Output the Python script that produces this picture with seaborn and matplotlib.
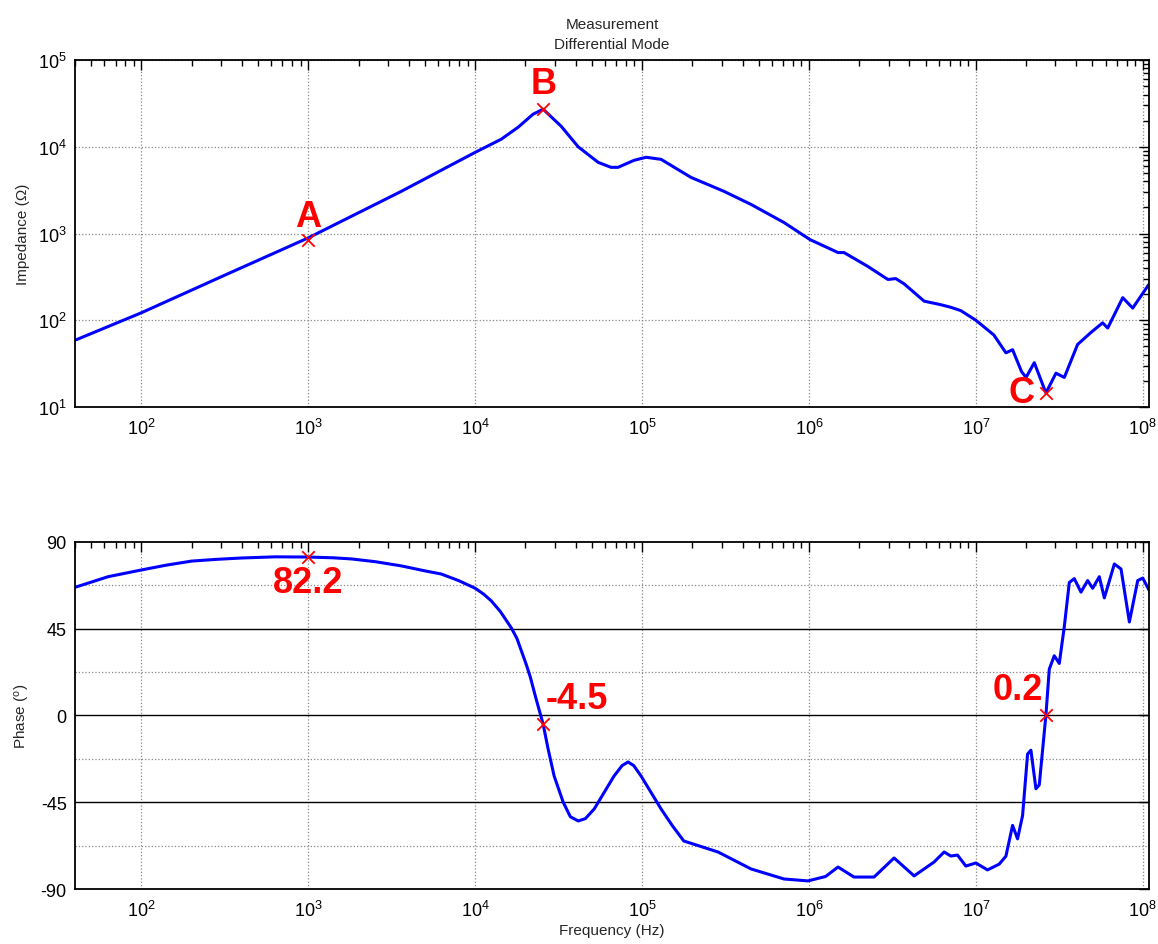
import numpy as np
import pandas as pd
import matplotlib
matplotlib.use("Agg")
import matplotlib.pyplot as plt
import seaborn as sns
from matplotlib.ticker import LogLocator, FixedLocator, NullFormatter

# Impedance magnitude, differential mode measurement
imp_freq = [40.7, 100, 316, 1000, 3606, 10000, 14320, 18070, 22230, 25530,
            32730, 41400, 54580, 65160, 71780, 89540, 105700, 130000, 196300,
            309700, 449800, 707900, 1.014e6, 1.493e6, 1.622e6, 2.254e6,
            2.972e6, 3.311e6, 3.715e6, 4.898e6, 6.166e6, 7.079e6, 8.128e6,
            1.0e7, 1.282e7, 1.514e7, 1.66e7, 1.88e7, 2.0e7, 2.24e7, 2.63e7,
            3.02e7, 3.39e7, 4.07e7, 4.9e7, 5.75e7, 6.17e7, 7.59e7, 8.71e7,
            1.086e8]
imp_ohm = [59.6, 122, 331, 891, 3062, 8630, 12220, 16790, 23770, 27100,
           17260, 10000, 6607, 5794, 5794, 6982, 7568, 7161, 4436,
           3062, 2163, 1340, 851, 603, 603, 417,
           295, 302, 263, 166, 151, 141, 129,
           100, 67.6, 42.1, 45.7, 25.5, 21.9, 32.4, 14.5,
           24.5, 21.9, 52.5, 72.4, 93.3, 81.3, 182, 138,
           257]

# Phase angle
ph_freq = [40.7, 63.1, 100, 141, 200, 282, 398, 631, 1000, 1413, 1820, 2512,
           3606, 5012, 6252, 7943, 10000, 11220, 12470, 14130, 16440, 17780,
           20180, 21380, 23170, 25530, 27350, 29720, 33650, 37150, 41400,
           45710, 51640, 67920, 75860, 82410, 89130, 98630, 130000, 151400,
           177800, 285100, 449800, 707900, 986300,
           1.259e6, 1.493e6, 1.862e6, 2.455e6, 3.236e6, 4.266e6, 5.623e6,
           6.457e6, 7.079e6, 7.762e6, 8.710e6, 1.0e7, 1.175e7, 1.380e7,
           1.514e7, 1.660e7, 1.778e7, 1.905e7, 2.042e7, 2.138e7, 2.291e7,
           2.399e7, 2.63e7, 2.754e7, 2.951e7, 3.162e7, 3.388e7, 3.631e7,
           3.890e7, 4.266e7, 4.677e7, 5.012e7, 5.495e7, 5.888e7, 6.761e7,
           7.413e7, 8.318e7, 9.333e7, 1.0e8, 1.122e8]
ph_deg = [66.7, 72.0, 75.5, 78.0, 80.1, 81.0, 81.7, 82.3, 82.2, 81.8, 81.2,
          79.8, 77.6, 75.0, 73.4, 70.0, 66.0, 63.0, 59.5, 54.0, 45.5, 40.0,
          26.7, 20.0, 8.6, -4.5, -17.4, -31.4, -44.9, -52.5, -54.7,
          -53.5, -48.5, -31.4, -26.0, -24.1, -26.0, -31.4, -48.5, -57.0,
          -65.1, -70.8, -79.6, -84.8, -85.8,
          -83.5, -78.6, -83.8, -83.8, -73.9, -83.2, -76.0,
          -70.8, -72.9, -72.4, -78.1, -76.5, -80.1, -77.1,
          -73.0, -57.0, -64.0, -52.0, -20.0, -18.0, -38.0,
          -36.0, 0.2, 24.0, 31.0, 27.0, 46.0, 69.0,
          71.0, 64.0, 70.0, 66.0, 72.0, 61.0, 78.6,
          76.0, 48.5, 70.0, 71.3, 63.0]

# Marked points
imp_mark_freq = [1000, 25530, 2.63e7]
imp_mark_ohm = [850, 27100, 14.5]
imp_mark_text = ["A", "B", "C"]
ph_mark_freq = [1000, 25530, 2.63e7]
ph_mark_deg = [82.2, -4.5, 0.2]
ph_mark_text = ["82.2", "-4.5", "0.2"]

decade_ticks = [1e2, 1e3, 1e4, 1e5, 1e6, 1e7, 1e8]

imp_df = pd.DataFrame({"freq": imp_freq, "z": imp_ohm})
ph_df = pd.DataFrame({"freq": ph_freq, "phase": ph_deg})

sns.set_style("white")
plt.rcParams["font.family"] = ["Liberation Sans", "DejaVu Sans"]
plt.rcParams["mathtext.fontset"] = "custom"
plt.rcParams["mathtext.rm"] = "Liberation Sans"
plt.rcParams["mathtext.it"] = "Liberation Sans"
plt.rcParams["mathtext.default"] = "regular"
plt.rcParams["axes.unicode_minus"] = False

fig = plt.figure(figsize=(11.58, 9.45), dpi=100)
ax1 = fig.add_axes([0.0648, 0.5683, 0.9274, 0.3671])
ax2 = fig.add_axes([0.0648, 0.0582, 0.9274, 0.3672])

xmin, xmax = 40, 1.09e8
blue = "#0000ff"
red = "#ff0000"

# ---- Impedance ----
sns.lineplot(data=imp_df, x="freq", y="z", ax=ax1, color=blue, lw=2.2,
             estimator=None, sort=False)
ax1.set_xscale("log")
ax1.set_yscale("log")
ax1.set_xlim(xmin, xmax)
ax1.set_ylim(10, 1e5)
ax1.scatter(imp_mark_freq, imp_mark_ohm, marker="x", s=80, color=red,
            linewidths=1.3, zorder=5)
offsets = [((0, 4), "center", "bottom"), ((0, 6), "center", "bottom"),
           ((-8, 0), "right", "center")]
for fx, zy, t, (off, ha, va) in zip(imp_mark_freq, imp_mark_ohm,
                                    imp_mark_text, offsets):
    ax1.annotate(t, (fx, zy), xytext=off, textcoords="offset points",
                 ha=ha, va=va, color=red, fontsize=26, fontweight="bold")
ax1.set_ylabel("Impedance (\u03a9)", fontsize=11, labelpad=6)
ax1.set_xlabel("")
ax1.set_title("Measurement\nDifferential Mode", fontsize=11, pad=9,
              linespacing=1.5)

# ---- Phase ----
sns.lineplot(data=ph_df, x="freq", y="phase", ax=ax2, color=blue, lw=2.2,
             estimator=None, sort=False)
ax2.set_xscale("log")
ax2.set_xlim(xmin, xmax)
ax2.set_ylim(-90, 90)
ax2.scatter(ph_mark_freq, ph_mark_deg, marker="x", s=80, color=red,
            linewidths=1.3, zorder=5)
offsets = [((0, -6), "center", "top"), ((2, 6), "left", "bottom"),
           ((-2, 6), "right", "bottom")]
for fx, py, t, (off, ha, va) in zip(ph_mark_freq, ph_mark_deg,
                                    ph_mark_text, offsets):
    ax2.annotate(t, (fx, py), xytext=off, textcoords="offset points",
                 ha=ha, va=va, color=red, fontsize=26, fontweight="bold")
ax2.set_yticks([-90, -45, 0, 45, 90])
ax2.yaxis.set_minor_locator(FixedLocator([-67.5, -22.5, 22.5, 67.5]))
ax2.set_ylabel("Phase ($^{o}$)", fontsize=11, labelpad=6)
ax2.set_xlabel("Frequency (Hz)", fontsize=11, labelpad=2)
for v in (-45, 0, 45):
    ax2.axhline(v, color="black", lw=1.0, zorder=1)

for ax in (ax1, ax2):
    ax.xaxis.set_major_locator(FixedLocator(decade_ticks))
    ax.xaxis.set_minor_locator(LogLocator(base=10, subs=np.arange(2, 10),
                                          numticks=200))
    ax.xaxis.set_minor_formatter(NullFormatter())
    ax.grid(True, which="major", color="#888888", ls=":", lw=0.9)
    ax.set_axisbelow(True)
    ax.tick_params(which="both", direction="in", top=True, right=True,
                   labelsize=13, colors="black")
    ax.tick_params(which="major", length=7, width=1)
    ax.tick_params(which="minor", length=4, width=1)
    ax.tick_params(axis="x", which="major", pad=8)
    ax.tick_params(axis="y", which="major", pad=6)
    for s in ax.spines.values():
        s.set_color("black")
        s.set_linewidth(1.3)

ax1.yaxis.set_major_locator(FixedLocator([1e1, 1e2, 1e3, 1e4, 1e5]))
ax2.tick_params(axis="y", which="minor", length=0)
ax2.grid(False, which="major", axis="y")
ax2.grid(True, which="minor", axis="y", color="#888888", ls=":", lw=0.9)

fig.savefig("out.png", dpi=100)
